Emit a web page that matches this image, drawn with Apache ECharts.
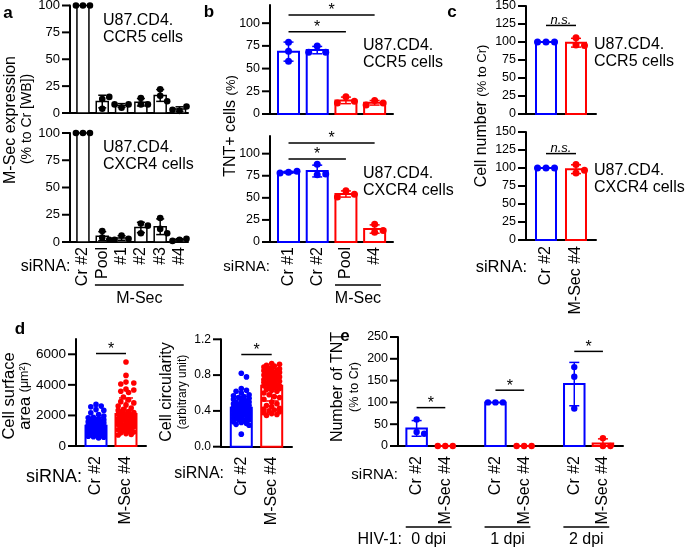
<!DOCTYPE html>
<html><head><meta charset="utf-8">
<script src="https://cdn.jsdelivr.net/npm/echarts@6/dist/echarts.min.js"></script>
<style>html,body{margin:0;padding:0;background:#fff}#c{width:685px;height:547px}</style>
</head><body><div id="c"></div>
<script>
// ---------------- data ----------------
const aCats = ['Cr #2','Pool','#1','#2','#3','#4'];
const aCCR5 = [[100,100,100],[13,15,4],[5,8,8],[14,8,8],[22,16,11],[2,6,3]];
const aCXCR4 = [[100,100,100],[10,4,2],[6,3,2],[17,15,8],[22,12,8],[2,3,1]];
const aTicks = [0,25,50,75,100];

const bCats = ['Cr #1','Cr #2','Pool','#4'];
const bCCR5 = [[79,69,58],[75,68,68],[19,14,12],[15,12,10]];
const bCXCR4 = [[79,80,78],[88,76,77],[58,54,51],[20,13,11]];
const bTicks = [0,25,50,75,100];

const cCats = ['Cr #2','M-Sec #4'];
const cCCR5 = [[100,100,100],[96,106,95]];
const cCXCR4 = [[100,100,100],[93,105,97]];
const cTicks = [0,25,50,75,100,125,150];

const dCats = ['Cr #2','M-Sec #4'];
const dAreaCr = [2720,2610,2560,2380,2330,2180,2060,1960,1880,1840,1790,1720,1690,1630,1610,1580,1540,1510,1480,1450,1420,1390,1370,1340,1310,1290,1260,1240,1210,1190,1170,1140,1120,1090,1070,1040,1010,990,960,940,910,880,860,830,810,780,760,730,700,680,640,610,570,520,1230,1180,1110,980,1020,1380];
const dAreaMSec = [5500,4620,4180,4120,4060,3720,3660,3580,3500,3210,3020,2900,2820,2690,2610,2480,2400,2330,2260,2190,2130,2070,2010,1960,1910,1860,1810,1760,1700,1650,1610,1560,1500,1460,1410,1360,1300,1260,1210,1160,1110,1060,1010,960,910,860,810,760,720,1880,1790,1720,2210,1590,1490,1990,1320,1190,1420,2090];
const dAreaTicks = [0,2000,4000,6000];
const dCircCr = [0.82,0.78,0.65,0.63,0.62,0.6,0.58,0.57,0.56,0.55,0.54,0.53,0.52,0.51,0.5,0.5,0.49,0.48,0.47,0.47,0.46,0.45,0.45,0.44,0.43,0.43,0.42,0.41,0.41,0.4,0.39,0.39,0.38,0.37,0.37,0.36,0.35,0.35,0.34,0.33,0.33,0.32,0.31,0.3,0.3,0.29,0.28,0.27,0.26,0.25,0.24,0.14,0.44,0.46,0.4,0.38,0.52,0.48,0.36,0.42];
const dCircMSec = [0.93,0.92,0.91,0.9,0.89,0.88,0.87,0.87,0.86,0.85,0.85,0.84,0.83,0.83,0.82,0.81,0.8,0.8,0.79,0.78,0.78,0.77,0.76,0.75,0.75,0.74,0.73,0.72,0.71,0.7,0.69,0.68,0.67,0.66,0.65,0.64,0.63,0.62,0.6,0.58,0.56,0.55,0.53,0.5,0.48,0.46,0.45,0.43,0.42,0.41,0.4,0.39,0.38,0.37,0.36,0.35,0.8,0.76,0.72,0.68];
const dCircTicks = [0,0.4,0.8,1.2];

const eCats = ['Cr #2','M-Sec #4'];
const eGroups = ['0 dpi','1 dpi','2 dpi'];
const eCr = [[61,32,28],[100,100,100],[181,159,86]];
const eMSec = [[0,0,0],[0,0,0],[0,18,0]];
const eTicks = [0,50,100,150,200,250];

// ---------------- helpers ----------------
const FONT = '"Liberation Sans", Arial, sans-serif';
const BLUE = '#0000ff', RED = '#ff0000', BLACK = '#000000';
const grids = [], xAxes = [], yAxes = [], series = [], graphic = [];
const mean = a => a.reduce((s, v) => s + v, 0) / a.length;
const sd = a => { const m = mean(a); return a.length < 2 ? 0 : Math.sqrt(a.reduce((s, v) => s + (v - m) * (v - m), 0) / (a.length - 1)); };

// beeswarm-like horizontal placement (pixels) to avoid overlapping dots
function swarm(vals, ppu, r, step, maxOff) {
  const placed = [], off = new Array(vals.length);
  vals.forEach((v, i) => {
    const py = v * ppu;
    let best = 0, bestScore = -1;
    for (let k = 0; k < 60; k++) {
      const cand = k === 0 ? 0 : (k % 2 ? 1 : -1) * Math.ceil(k / 2) * step;
      if (Math.abs(cand) > maxOff + 1e-9) break;
      let minD = Infinity;
      for (const p of placed) { const d = Math.hypot(p[0] - cand, p[1] - py); if (d < minD) minD = d; }
      if (minD >= 2 * r * 0.95) { best = cand; bestScore = Infinity; break; }
      if (minD > bestScore) { bestScore = minD; best = cand; }
    }
    off[i] = best; placed.push([best, py]);
  });
  return off;
}

function addPanel(p) {
  const gi = grids.length;
  grids.push({ left: p.left, top: p.top, width: p.width, height: p.height, containLabel: false, outerBoundsMode: 'none' });
  const pos = p.pos;
  xAxes.push({
    type: 'value', gridIndex: gi, min: p.xmin, max: p.xmax,
    axisLine: { show: true, onZero: false, lineStyle: { color: BLACK, width: 2 } },
    axisTick: { show: false }, splitLine: { show: false },
    axisLabel: {
      show: !!p.labels, customValues: pos, rotate: 90, margin: p.xMargin || 5,
      fontSize: 16, color: BLACK, fontFamily: FONT,
      formatter: v => { const k = pos.findIndex(q => Math.abs(q - v) < 1e-6); return k >= 0 && p.labels ? p.labels[k] : ''; }
    }
  });
  yAxes.push({
    type: 'value', gridIndex: gi, min: 0, max: p.ymax,
    axisLine: { show: true, onZero: false, lineStyle: { color: BLACK, width: 2 } },
    axisTick: { show: false },
    splitLine: { show: false },
    axisLabel: { customValues: p.ticks, fontSize: p.tickFont, margin: 10, color: BLACK, fontFamily: FONT,
      formatter: p.fmt || (v => String(v)) }
  });
  // y tick marks at the tick values
  series.push({
    type: 'custom', xAxisIndex: gi, yAxisIndex: gi, z: 1, data: p.ticks.map(v => [p.xmin, v]),
    renderItem: (params, api) => {
      const c = api.coord([api.value(0), api.value(1)]);
      return { type: 'line', shape: { x1: c[0] - 8, y1: c[1], x2: c[0], y2: c[1] }, style: { stroke: BLACK, lineWidth: 2 } };
    }
  });
  const ppu = p.height / p.ymax;
  const groups = p.groups;
  const barData = groups.map(g => [g.x, mean(g.vals), sd(g.vals)]);
  // bars
  series.push({
    type: 'custom', xAxisIndex: gi, yAxisIndex: gi, z: 2, data: barData,
    renderItem: (params, api) => {
      const g = groups[params.dataIndex];
      const b = api.coord([api.value(0), 0]), t = api.coord([api.value(0), api.value(1)]);
      return { type: 'rect', shape: { x: b[0] - p.barW / 2, y: t[1], width: p.barW, height: b[1] - t[1] },
        style: { fill: '#ffffff', stroke: g.color, lineWidth: p.barLW } };
    }
  });
  // dots
  const dotData = [];
  groups.forEach((g, k) => {
    const offs = swarm(g.vals, ppu, p.dotR, p.step, p.maxOff);
    g.vals.forEach((v, i) => dotData.push([g.x, v, offs[i], k]));
  });
  series.push({
    type: 'custom', xAxisIndex: gi, yAxisIndex: gi, z: 3, data: dotData,
    renderItem: (params, api) => {
      const c = api.coord([api.value(0), api.value(1)]);
      const g = groups[api.value(3)];
      return { type: 'circle', shape: { cx: c[0] + api.value(2), cy: c[1], r: p.dotR }, style: { fill: g.color } };
    }
  });
  // error bars (mean ± SD)
  series.push({
    type: 'custom', xAxisIndex: gi, yAxisIndex: gi, z: 4, data: barData,
    renderItem: (params, api) => {
      const g = groups[params.dataIndex];
      const x = api.value(0), m = api.value(1), s = api.value(2);
      if (!(s > 0)) return { type: 'group', children: [] };
      const hi = api.coord([x, m + s]), lo = api.coord([x, Math.max(0, m - s)]);
      const st = { stroke: g.color, lineWidth: 1.5 };
      const ch = [
        { type: 'line', shape: { x1: hi[0], y1: hi[1], x2: lo[0], y2: lo[1] }, style: st },
        { type: 'line', shape: { x1: hi[0] - p.capW, y1: hi[1], x2: hi[0] + p.capW, y2: hi[1] }, style: st }
      ];
      if (m - s >= 0) ch.push({ type: 'line', shape: { x1: lo[0] - p.capW, y1: lo[1], x2: lo[0] + p.capW, y2: lo[1] }, style: st });
      return { type: 'group', children: ch };
    }
  });
  // significance annotations
  if (p.sig) {
    series.push({
      type: 'custom', xAxisIndex: gi, yAxisIndex: gi, z: 5, data: p.sig.map(s => [s[0], s[2], s[1]]),
      renderItem: (params, api) => {
        const s = p.sig[params.dataIndex];
        const a = api.coord([api.value(0), api.value(1)]), b = api.coord([api.value(2), api.value(1)]);
        const isStar = s[3] === '*';
        return { type: 'group', children: [
          { type: 'line', shape: { x1: a[0], y1: a[1], x2: b[0], y2: b[1] }, style: { stroke: BLACK, lineWidth: 1.5 } },
          { type: 'text', x: (a[0] + b[0]) / 2, y: isStar ? a[1] - 4 : a[1] + 1,
            style: { text: s[3], fill: BLACK, fontSize: isStar ? 16 : 13, fontFamily: FONT, fontStyle: isStar ? 'normal' : 'italic',
              align: 'center', verticalAlign: isStar ? 'middle' : 'bottom' } }
        ] };
      }
    });
  }
  // group brackets below the axis
  if (p.brackets) {
    series.push({
      type: 'custom', xAxisIndex: gi, yAxisIndex: gi, z: 5, data: p.brackets.map(b => [b[0], 0, b[1]]),
      renderItem: (params, api) => {
        const br = p.brackets[params.dataIndex];
        const a = api.coord([api.value(0), 0]), b = api.coord([api.value(2), 0]);
        const unit = api.size([1, 0])[0];
        const x1 = a[0] - 0.38 * unit, x2 = b[0] + 0.22 * unit;
        return { type: 'group', children: [
          { type: 'line', shape: { x1: x1, y1: a[1] + p.brLine, x2: x2, y2: a[1] + p.brLine }, style: { stroke: BLACK, lineWidth: 1.5 } },
          { type: 'text', x: (x1 + x2) / 2, y: a[1] + p.brText,
            style: { text: br[2], fill: BLACK, fontSize: 16, fontFamily: FONT, align: 'center', verticalAlign: 'middle' } }
        ] };
      }
    });
  }
}

function text(x, y, t, size, o) {
  o = o || {};
  graphic.push({ type: 'text', x: x, y: y, rotation: o.rot || 0, z: 10,
    style: { text: t, fill: BLACK, fontSize: size, fontFamily: FONT, fontWeight: o.bold ? 'bold' : 'normal',
      align: o.align || 'left', verticalAlign: o.va || 'middle', lineHeight: o.lh, rich: o.rich } });
}

const mk = (sets, colors, pos) => sets.map((v, i) => ({ x: pos[i], vals: v, color: colors[i] }));

// ---------------- panel a ----------------
const aPos = aCats.map((_, i) => i);
const aCol = aCats.map(() => BLACK);
const aCommon = { left: 70, width: 118, xmin: -0.67, xmax: 5.44, ymax: 100, ticks: aTicks, tickFont: 13,
  pos: aPos, barW: 12, barLW: 1.5, dotR: 3.3, step: 7, maxOff: 8, capW: 4 };
addPanel(Object.assign({}, aCommon, { top: 5.5, height: 107.5, groups: mk(aCCR5, aCol, aPos) }));
addPanel(Object.assign({}, aCommon, { top: 133, height: 109, labels: aCats, xMargin: 5,
  groups: mk(aCXCR4, aCol, aPos), brackets: [[1, 5, 'M-Sec']], brLine: 43, brText: 57 }));

// ---------------- panel b ----------------
const bPos = bCats.map((_, i) => i);
const bCol = [BLUE, BLUE, RED, RED];
const bCommon = { left: 270, width: 123, xmin: -0.645, xmax: 3.64, ymax: 120, ticks: bTicks, tickFont: 12.5,
  pos: bPos, barW: 21, barLW: 2, dotR: 3.5, step: 8.5, maxOff: 9, capW: 5 };
addPanel(Object.assign({}, bCommon, { top: 5, height: 109, groups: mk(bCCR5, bCol, bPos),
  sig: [[0, 3, 109, '*'], [0, 2, 90.5, '*']] }));
addPanel(Object.assign({}, bCommon, { top: 136, height: 106, labels: bCats, xMargin: 5, groups: mk(bCXCR4, bCol, bPos),
  sig: [[0, 3, 112, '*'], [0, 2, 94, '*']], brackets: [[2, 3, 'M-Sec']], brLine: 43, brText: 57 }));

// ---------------- panel c ----------------
const cPos = [0, 1];
const cCol = [BLUE, RED];
const cCommon = { left: 526, width: 70, xmin: -0.667, xmax: 1.667, ymax: 150, ticks: cTicks, tickFont: 12.5,
  pos: cPos, barW: 20, barLW: 2, dotR: 3.5, step: 8.5, maxOff: 9, capW: 5 };
addPanel(Object.assign({}, cCommon, { top: 6, height: 108, groups: mk(cCCR5, cCol, cPos), sig: [[0, 1, 123, 'n.s.']] }));
addPanel(Object.assign({}, cCommon, { top: 132, height: 108, labels: cCats, xMargin: 6, groups: mk(cCXCR4, cCol, cPos),
  sig: [[0, 1, 120, 'n.s.']] }));

// ---------------- panel d ----------------
const dPos = [0, 1];
addPanel({ left: 76, top: 339, width: 70, height: 107, xmin: -0.667, xmax: 1.667, ymax: 7000, ticks: dAreaTicks, tickFont: 13.5,
  pos: dPos, labels: dCats, xMargin: 10, barW: 21, barLW: 2, dotR: 2.8, step: 2.6, maxOff: 8, capW: 7,
  groups: mk([dAreaCr, dAreaMSec], [BLUE, RED], dPos), sig: [[0, 1, 6050, '*']] });
addPanel({ left: 221, top: 339.3, width: 71, height: 107.4, xmin: -0.667, xmax: 1.667, ymax: 1.2, ticks: dCircTicks, tickFont: 12,
  fmt: v => v.toFixed(1),
  pos: dPos, labels: dCats, xMargin: 10, barW: 21, barLW: 2, dotR: 2.8, step: 2.6, maxOff: 8, capW: 7,
  groups: mk([dCircCr, dCircMSec], [BLUE, RED], dPos), sig: [[0, 1, 1.03, '*']] });

// ---------------- panel e ----------------
const ePos = [], eLabels = [], eSets = [], eCol = [];
eGroups.forEach((g, i) => {
  ePos.push(i * 2.75, i * 2.75 + 1);
  eLabels.push(eCats[0], eCats[1]);
  eSets.push(eCr[i], eMSec[i]);
  eCol.push(BLUE, RED);
});
addPanel({ left: 398, top: 337, width: 225, height: 109, xmin: -0.65, xmax: 7.2, ymax: 250, ticks: eTicks, tickFont: 12.5,
  pos: ePos, labels: eLabels, xMargin: 10, barW: 20.5, barLW: 2, dotR: 3.2, step: 7.5, maxOff: 9, capW: 5,
  groups: mk(eSets, eCol, ePos),
  sig: [[0, 1, 88, '*'], [2.75, 3.75, 128, '*'], [5.5, 6.5, 217, '*']],
  brackets: eGroups.map((g, i) => [i * 2.75, i * 2.75 + 1, g]), brLine: 81, brText: 94 });

// ---------------- texts ----------------
[['a', 8, 13], ['b', 209, 12], ['c', 452, 12], ['d', 20, 329], ['e', 345, 336]].forEach(t =>
  text(t[1], t[2], t[0], 17, { bold: true, align: 'center' }));

[[103, 12.5, 'U87.CD4.\nCCR5 cells'], [103, 139.5, 'U87.CD4.\nCXCR4 cells'],
 [363, 37.5, 'U87.CD4.\nCCR5 cells'], [363, 165.5, 'U87.CD4.\nCXCR4 cells'],
 [594, 36.5, 'U87.CD4.\nCCR5 cells'], [594, 162.5, 'U87.CD4.\nCXCR4 cells']].forEach(t =>
  text(t[0], t[1], t[2], 16, { va: 'top', lh: 17 }));

[[70.5, 267, 16], [270, 267, 15], [527, 267, 16.5], [82, 477, 18], [224, 474, 16], [398, 475, 15]].forEach(t =>
  text(t[0], t[1], 'siRNA:', t[2], { align: 'right' }));
text(402, 540, 'HIV-1:', 16, { align: 'right' });

const R = Math.PI / 2;
text(11, 120, 'M-Sec expression', 16, { rot: R, align: 'center' });
text(27, 119, '(% to Cr [WB])', 14, { rot: R, align: 'center' });
text(231, 126, '{a|TNT+ cells }{b|(%)}', 16, { rot: R, align: 'center', rich: { a: { fontSize: 16, fontFamily: FONT }, b: { fontSize: 13, fontFamily: FONT } } });
text(482, 116, '{a|Cell number }{b|(% to Cr)}', 16, { rot: R, align: 'center', rich: { a: { fontSize: 16, fontFamily: FONT }, b: { fontSize: 13, fontFamily: FONT } } });
text(9, 396, 'Cell surface', 16.5, { rot: R, align: 'center' });
text(25, 396, '{a|area }{b|(μm²)}', 16.5, { rot: R, align: 'center', rich: { a: { fontSize: 16.5, fontFamily: FONT }, b: { fontSize: 12.5, fontFamily: FONT } } });
text(167, 392, 'Cell circularity', 16, { rot: R, align: 'center' });
text(183, 392, '(arbitrary unit)', 12, { rot: R, align: 'center' });
text(338, 387, 'Number of TNT', 16, { rot: R, align: 'center' });
text(355, 387, '(% to Cr)', 12.5, { rot: R, align: 'center' });

const chart = echarts.init(document.getElementById('c'), null, { renderer: 'canvas' });
chart.setOption({
  animation: false, backgroundColor: '#ffffff',
  grid: grids, xAxis: xAxes, yAxis: yAxes, series: series, graphic: graphic
});
</script></body></html>
